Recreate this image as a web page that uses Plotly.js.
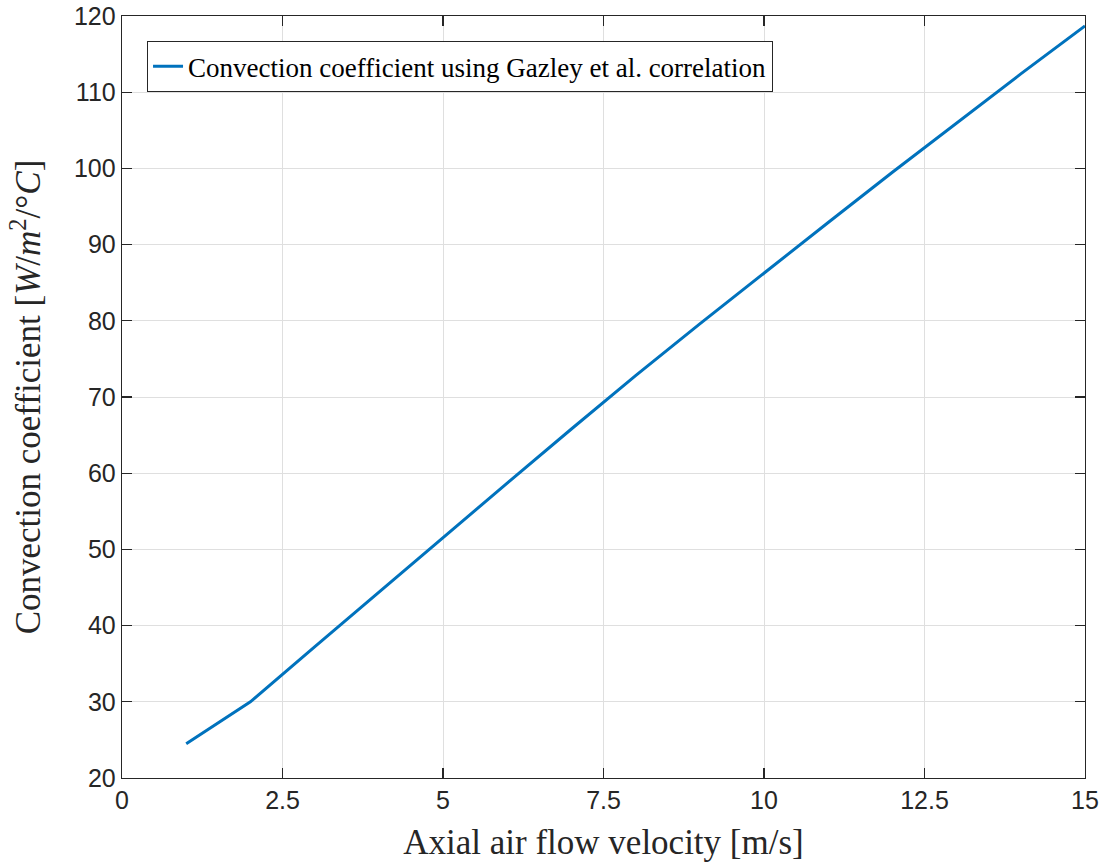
<!DOCTYPE html>
<html>
<head>
<meta charset="utf-8">
<script src="https://cdn.plot.ly/plotly-3.0.1.min.js"></script>
<style>
  html, body { margin: 0; padding: 0; background: #ffffff; }
  #chart { width: 1106px; height: 866px; }
</style>
</head>
<body>
<div id="chart"></div>
<script>
// Axial air flow velocity [m/s]
const velocity = [1, 2, 3, 4, 5, 6, 7, 8, 9, 10, 11, 12, 13, 14, 15];
// Convection coefficient [W/m^2/°C], Gazley et al. correlation
const convCoeff = [24.5, 30.0, 37.2, 44.4, 51.5, 58.7, 65.8, 72.8, 79.6, 86.3, 92.9, 99.5, 106.0, 112.4, 118.7];

const seriesName = 'Convection coefficient using Gazley et al. correlation';
const xTicks = [0, 2.5, 5, 7.5, 10, 12.5, 15];
const xTickText = ['0', '2.5', '5', '7.5', '10', '12.5', '15'];
const yTicks = [20, 30, 40, 50, 60, 70, 80, 90, 100, 110, 120];

const axisColor = '#262626';
const gridColor = '#dfdfdf';
const serif = '"Liberation Serif", "DejaVu Serif", serif';
const sans = '"Liberation Sans", Arial, sans-serif';

const trace = {
  x: velocity,
  y: convCoeff,
  type: 'scatter',
  mode: 'lines',
  name: seriesName,
  line: { color: '#0072BD', width: 3 }
};

const layout = {
  width: 1106,
  height: 866,
  margin: { l: 122, r: 21, t: 16, b: 88 },
  paper_bgcolor: '#ffffff',
  plot_bgcolor: '#ffffff',
  showlegend: true,
  legend: {
    x: 0.026, y: 0.967, xanchor: 'left', yanchor: 'top',
    bgcolor: '#ffffff', bordercolor: axisColor, borderwidth: 1,
    font: { family: serif, size: 27, color: '#000000' }
  },
  xaxis: {
    range: [0, 15],
    tickvals: xTicks,
    ticktext: xTickText,
    ticks: 'inside', ticklen: 10, tickwidth: 1.3, tickcolor: axisColor,
    showline: true, linecolor: axisColor, linewidth: 1.3, mirror: 'ticks',
    showgrid: true, gridcolor: gridColor, gridwidth: 1,
    zeroline: false,
    tickfont: { family: sans, size: 25, color: axisColor },
    title: { text: 'Axial air flow velocity [m/s]', font: { family: serif, size: 35, color: axisColor }, standoff: 16 }
  },
  yaxis: {
    range: [20, 120],
    tickvals: yTicks,
    ticks: 'inside', ticklen: 10, tickwidth: 1.3, tickcolor: axisColor,
    showline: true, linecolor: axisColor, linewidth: 1.3, mirror: 'ticks',
    showgrid: true, gridcolor: gridColor, gridwidth: 1,
    zeroline: false,
    tickfont: { family: sans, size: 25, color: axisColor },
    title: {
      text: 'Convection coefficient [<i>W</i>/<i>m</i><sup>2</sup>/°<i>C</i>]',
      font: { family: serif, size: 35, color: axisColor }, standoff: 22
    }
  }
};

Plotly.newPlot('chart', [trace], layout, { displayModeBar: false, staticPlot: true });
</script>
</body>
</html>
